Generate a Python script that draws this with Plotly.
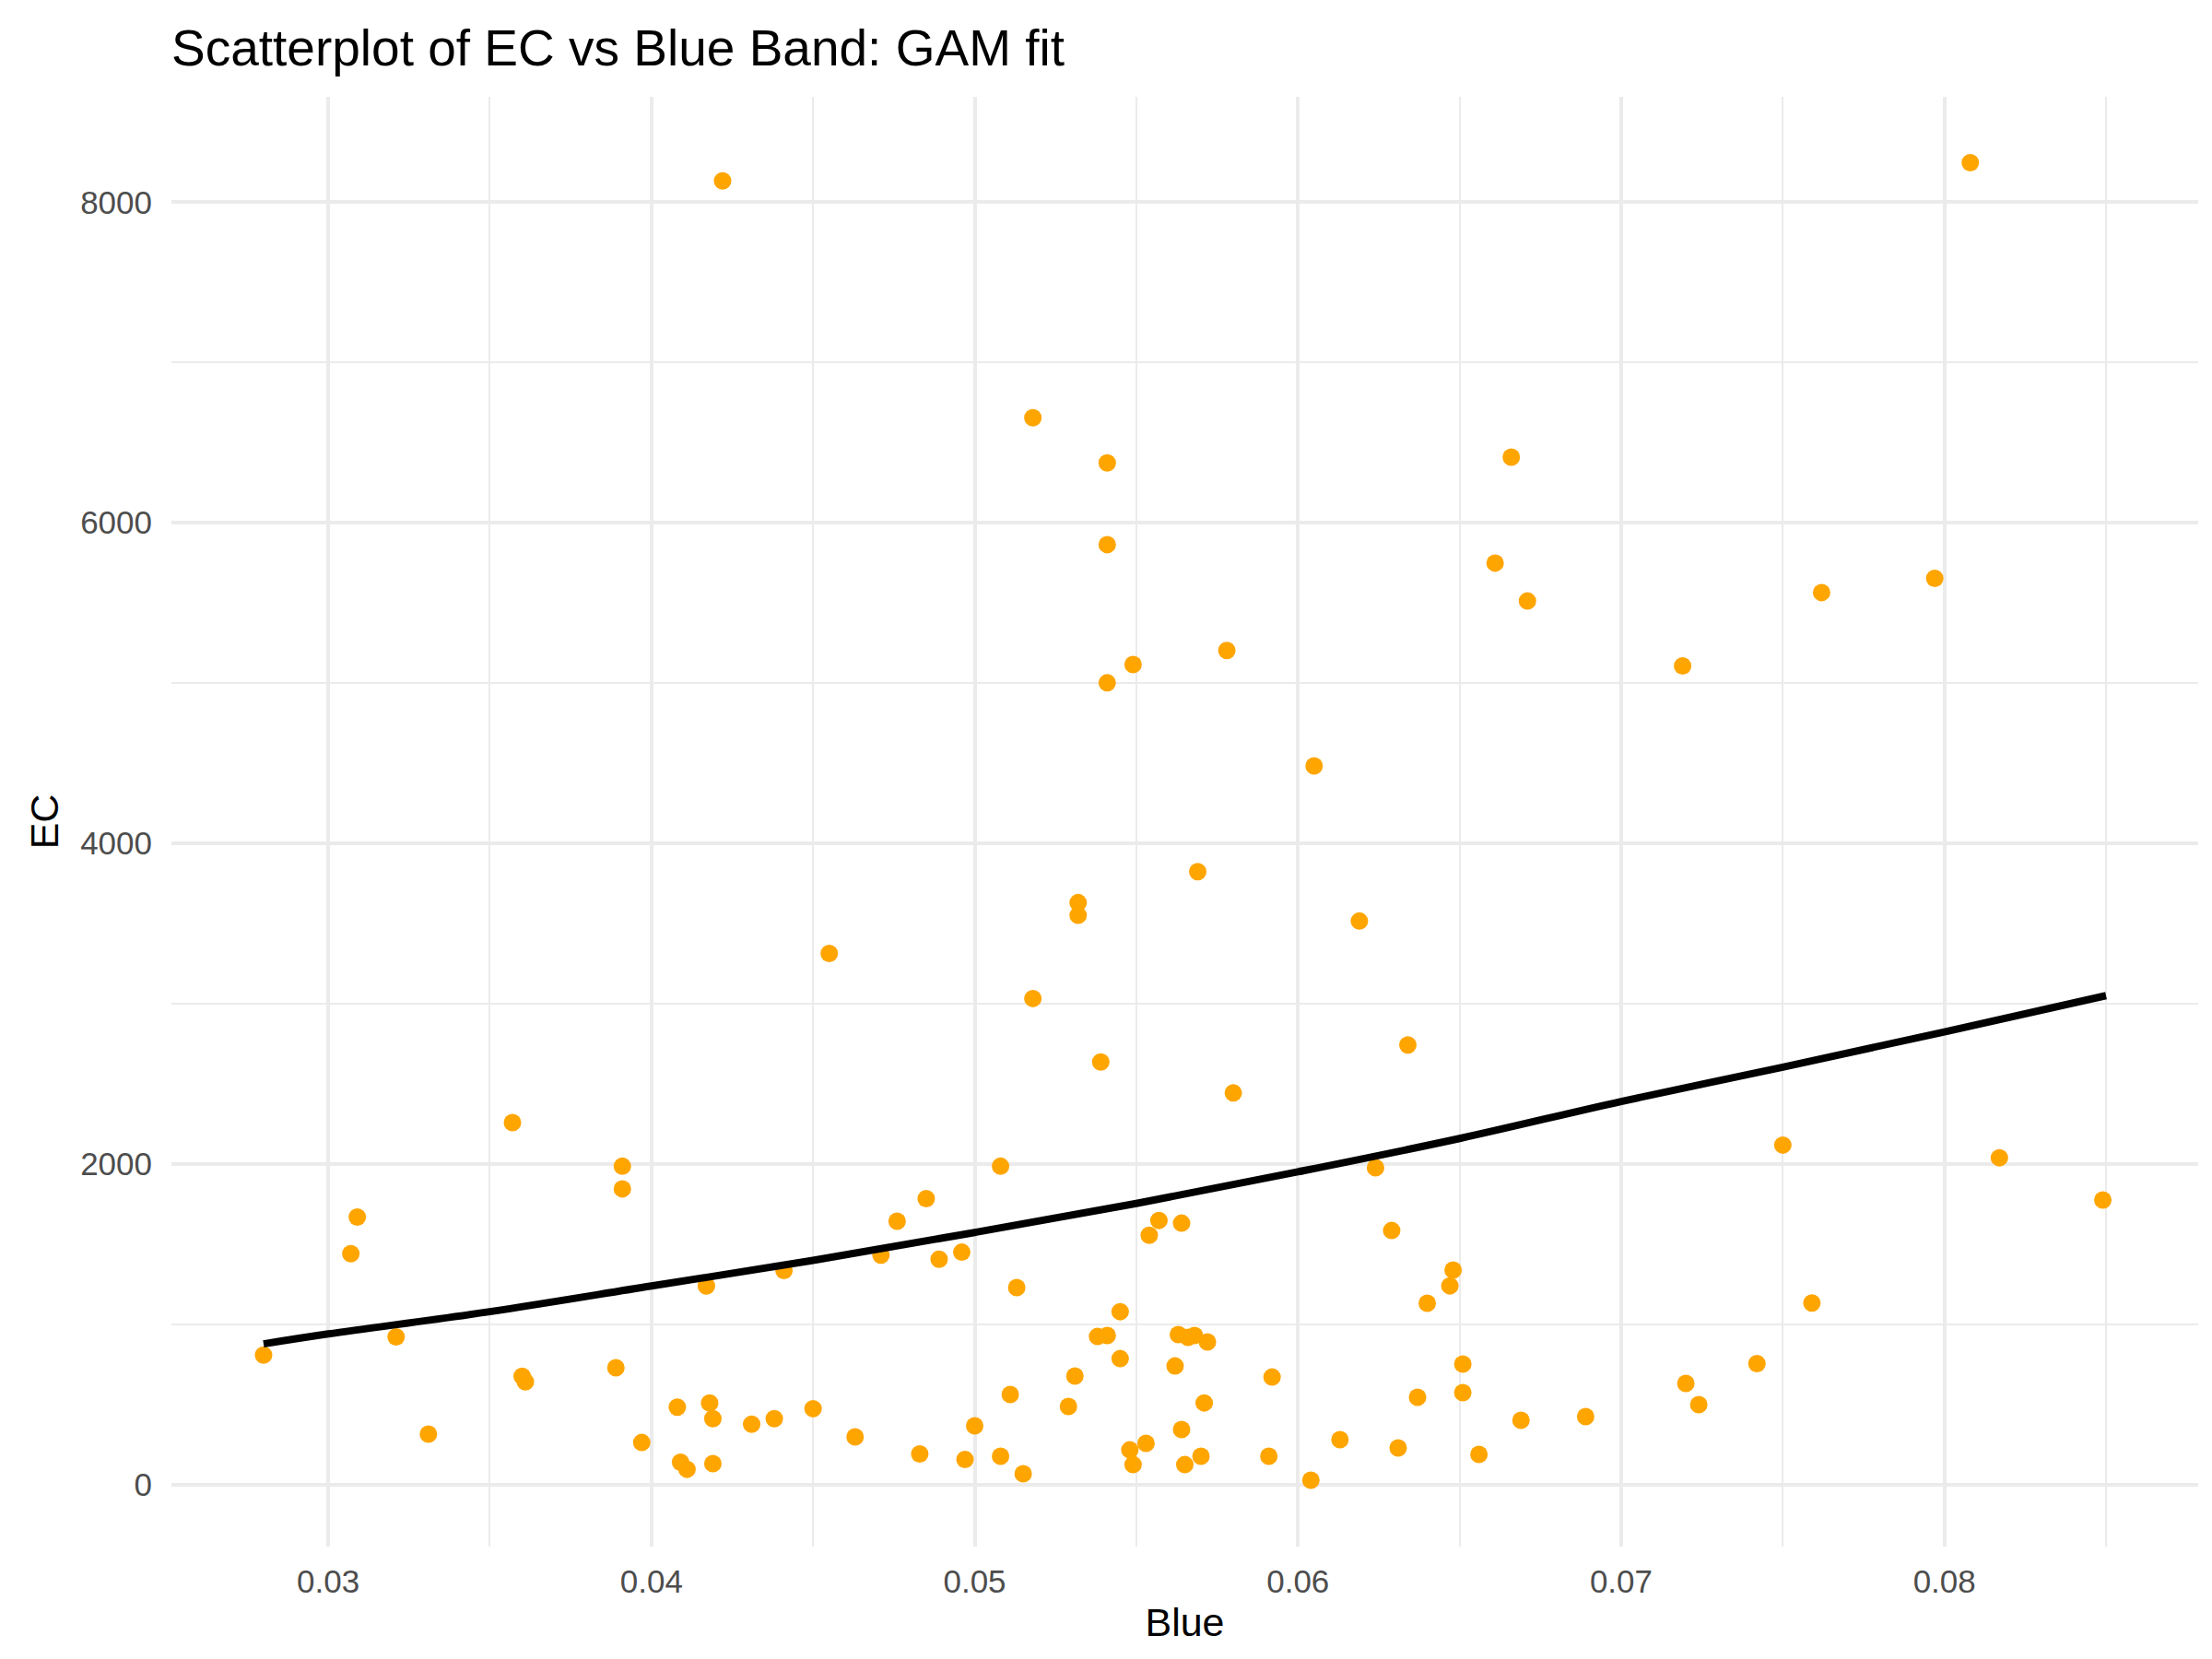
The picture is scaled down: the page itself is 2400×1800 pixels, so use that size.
import plotly.graph_objects as go

# Blue band reflectance and EC readings
blue = [0.0280, 0.0307, 0.0309, 0.0321, 0.0331, 0.0357, 0.0360, 0.0361, 0.0389, 0.0391,
        0.0391, 0.0397, 0.0408, 0.0409, 0.0411, 0.0417, 0.0418, 0.0419, 0.0419, 0.0422,
        0.0431, 0.0438, 0.0441, 0.0450, 0.0455, 0.0463, 0.0471, 0.0476, 0.0483, 0.0485,
        0.0489, 0.0496, 0.0497, 0.0500, 0.0508, 0.0508, 0.0511, 0.0513, 0.0515, 0.0518,
        0.0518, 0.0529, 0.0531, 0.0532, 0.0532, 0.0538, 0.0539, 0.0541, 0.0541, 0.0541,
        0.0541, 0.0545, 0.0545, 0.0548, 0.0549, 0.0549, 0.0553, 0.0554, 0.0557, 0.0562,
        0.0563, 0.0564, 0.0564, 0.0565, 0.0566, 0.0569, 0.0568, 0.0570, 0.0571, 0.0572,
        0.0578, 0.0580, 0.0591, 0.0592, 0.0604, 0.0605, 0.0613, 0.0619, 0.0624, 0.0629,
        0.0631, 0.0634, 0.0637, 0.0640, 0.0647, 0.0648, 0.0651, 0.0651, 0.0656, 0.0661,
        0.0666, 0.0669, 0.0671, 0.0689, 0.0719, 0.0720, 0.0724, 0.0742, 0.0750, 0.0759,
        0.0762, 0.0797, 0.0808, 0.0817, 0.0849]
ec = [809, 1442, 1670, 923, 316, 2259, 677, 642, 730, 1987,
      1846, 264, 484, 141, 97, 1240, 510, 413, 132, 8132,
      378, 413, 1336, 475, 3314, 299, 1433, 1644, 193, 1785,
      1407, 1451, 158, 368, 1987, 178, 563, 1230, 69, 6655,
      3033, 489, 678, 3631, 3552, 925, 2637, 931, 6374, 5864,
      5002, 1080, 787, 218, 126, 5116, 259, 1557, 1649, 741,
      937, 1632, 345, 126, 920, 3824, 931, 178, 511, 891,
      5204, 2444, 178, 672, 29, 4484, 282, 3516, 1978, 1586,
      230, 2743, 546, 1132, 1241, 1339, 753, 575, 190, 5749,
      6409, 402, 5512, 425, 5108, 632, 500, 756, 2119, 1134,
      5565, 5653, 8246, 2040, 1776]

# GAM fitted curve
fit_blue = [0.028, 0.030, 0.035, 0.040, 0.045, 0.050, 0.055, 0.060, 0.065, 0.070, 0.075, 0.080, 0.085]
fit_ec = [879, 941, 1080, 1240, 1400, 1574, 1755, 1952, 2160, 2391, 2605, 2825, 3051]

x_ticks = [0.03, 0.04, 0.05, 0.06, 0.07, 0.08]
x_labels = ["0.03", "0.04", "0.05", "0.06", "0.07", "0.08"]
y_ticks = [0, 2000, 4000, 6000, 8000]

FONT = "Liberation Sans, Arial, Helvetica, sans-serif"
GRID = "#EBEBEB"

fig = go.Figure()

fig.add_trace(go.Scatter(
    x=blue, y=ec,
    mode="markers",
    marker=dict(color="#FFA500", size=19, line=dict(width=0)),
    showlegend=False,
))

fig.add_trace(go.Scatter(
    x=fit_blue, y=fit_ec,
    mode="lines",
    line=dict(color="black", width=8, shape="spline"),
    showlegend=False,
))

fig.update_layout(
    width=2400, height=1800,
    paper_bgcolor="white", plot_bgcolor="white",
    margin=dict(l=178, r=23, t=97, b=130),
    font=dict(family=FONT, color="black"),
    title=dict(
        text="Scatterplot of EC vs Blue Band: GAM fit",
        font=dict(size=55, color="black", family=FONT),
        xref="paper", x=0, xanchor="left",
        yref="container", y=1 - 44 / 1800, yanchor="middle",
    ),
)

fig.update_xaxes(
    range=[0.02515, 0.08785],
    tickvals=x_ticks, ticktext=x_labels,
    showgrid=True, gridcolor=GRID, gridwidth=4,
    minor=dict(showgrid=True, gridcolor=GRID, gridwidth=2, dtick=0.005, tick0=0.025),
    zeroline=False, showline=False,
    ticks="", ticklabelstandoff=14,
    tickfont=dict(size=35, color="#4D4D4D"),
    title=dict(text="Blue", font=dict(size=43, color="black"), standoff=10),
)

fig.update_yaxes(
    range=[-385, 8657],
    tickvals=y_ticks,
    showgrid=True, gridcolor=GRID, gridwidth=4,
    minor=dict(showgrid=True, gridcolor=GRID, gridwidth=2, dtick=1000, tick0=0),
    zeroline=False, showline=False,
    ticks="", ticklabelstandoff=20,
    tickfont=dict(size=35, color="#4D4D4D"),
    title=dict(text="EC", font=dict(size=43, color="black"), standoff=10),
)

fig.write_html("out.html")
